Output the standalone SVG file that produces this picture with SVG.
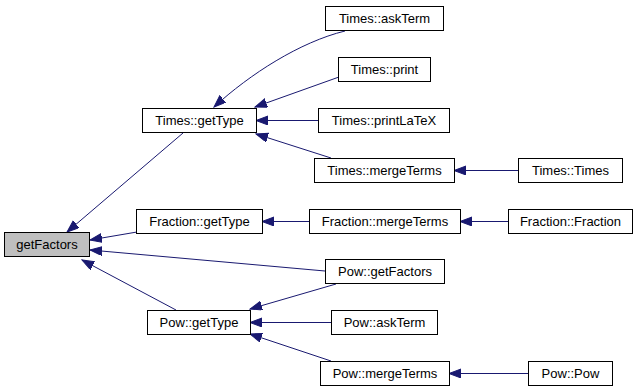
<svg xmlns="http://www.w3.org/2000/svg" width="637" height="392" viewBox="0 0 637 392">
  <style>
    .node rect { fill: #ffffff; stroke: #000000; stroke-width: 1; }
    .node.root rect { fill: #bfbfbf; }
    .node text { font-family: "Liberation Sans", Arial, sans-serif; font-size: 13px; fill: #000000; text-anchor: middle; }
    .edges path { fill: none; stroke: #191970; stroke-width: 1; marker-end: url(#arrow); }
  </style>
  <defs>
    <marker id="arrow" markerUnits="userSpaceOnUse" markerWidth="13" markerHeight="10" refX="12" refY="4.5" orient="auto">
      <path d="M0,0 L12,4.5 L0,9 z" fill="#191970" stroke="#191970" stroke-width="1"/>
    </marker>
  </defs>
  <rect x="0" y="0" width="637" height="392" fill="#ffffff"/>

  <!-- call edges: caller -> callee -->
  <g id="edges" class="edges">
    <path d="M183,133 L67,232"/>
    <path d="M137,232 L90,240"/>
    <path d="M325,271 L90,250"/>
    <path d="M176,310 L82,260"/>
    <path d="M345,31 C300,42 250,74 214,107"/>
    <path d="M339,77 L255,107"/>
    <path d="M318,120.5 L256,120.5"/>
    <path d="M331,158 L256,134"/>
    <path d="M518,170.5 L454,170.5"/>
    <path d="M309,221.5 L262,221.5"/>
    <path d="M508,221.5 L460,221.5"/>
    <path d="M336,284 L250,309"/>
    <path d="M331,322.5 L250,322.5"/>
    <path d="M331,361 L250,334"/>
    <path d="M528,373.5 L449,373.5"/>
  </g>

  <g id="getFactors" class="node root">
    <rect x="4.5" y="232.5" width="85" height="24"/>
    <text x="47" y="249">getFactors</text>
  </g>
  <g id="Times_getType" class="node">
    <rect x="142.5" y="108.5" width="114" height="24"/>
    <text x="199.5" y="125">Times::getType</text>
  </g>
  <g id="Fraction_getType" class="node">
    <rect x="136.5" y="209.5" width="126" height="24"/>
    <text x="199.5" y="226">Fraction::getType</text>
  </g>
  <g id="Pow_getType" class="node">
    <rect x="147.5" y="310.5" width="103" height="24"/>
    <text x="199" y="327">Pow::getType</text>
  </g>
  <g id="Times_askTerm" class="node">
    <rect x="325.5" y="6.5" width="118" height="24"/>
    <text x="384.5" y="23">Times::askTerm</text>
  </g>
  <g id="Times_print" class="node">
    <rect x="338.5" y="57.5" width="92" height="24"/>
    <text x="384.5" y="74">Times::print</text>
  </g>
  <g id="Times_printLaTeX" class="node">
    <rect x="318.5" y="108.5" width="131" height="24"/>
    <text x="384" y="125">Times::printLaTeX</text>
  </g>
  <g id="Times_mergeTerms" class="node">
    <rect x="314.5" y="158.5" width="140" height="24"/>
    <text x="384.5" y="175">Times::mergeTerms</text>
  </g>
  <g id="Times_Times" class="node">
    <rect x="518.5" y="158.5" width="104" height="24"/>
    <text x="570.5" y="175">Times::Times</text>
  </g>
  <g id="Fraction_mergeTerms" class="node">
    <rect x="309.5" y="209.5" width="151" height="24"/>
    <text x="385" y="226">Fraction::mergeTerms</text>
  </g>
  <g id="Fraction_Fraction" class="node">
    <rect x="508.5" y="209.5" width="124" height="24"/>
    <text x="570.5" y="226">Fraction::Fraction</text>
  </g>
  <g id="Pow_getFactors" class="node">
    <rect x="325.5" y="259.5" width="119" height="24"/>
    <text x="385" y="276">Pow::getFactors</text>
  </g>
  <g id="Pow_askTerm" class="node">
    <rect x="331.5" y="310.5" width="106" height="24"/>
    <text x="384.5" y="327">Pow::askTerm</text>
  </g>
  <g id="Pow_mergeTerms" class="node">
    <rect x="320.5" y="361.5" width="129" height="24"/>
    <text x="385" y="378">Pow::mergeTerms</text>
  </g>
  <g id="Pow_Pow" class="node">
    <rect x="528.5" y="361.5" width="84" height="24"/>
    <text x="570.5" y="378">Pow::Pow</text>
  </g>
</svg>
